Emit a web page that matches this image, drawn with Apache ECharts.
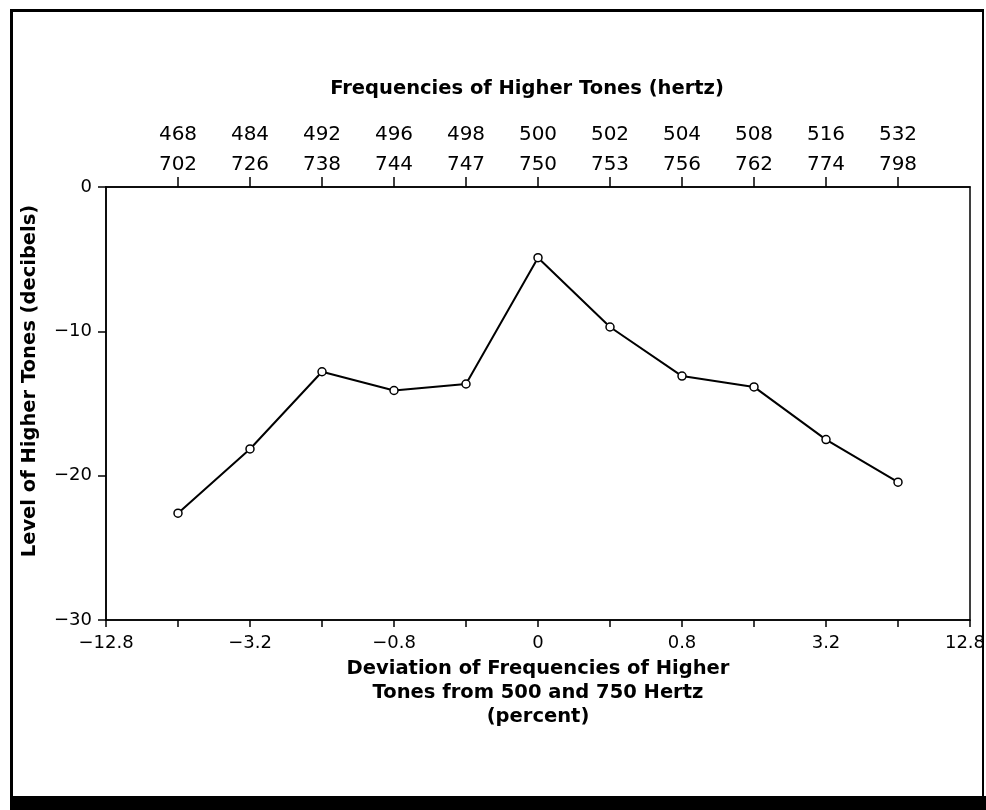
<!DOCTYPE html>
<html>
<head>
<meta charset="utf-8">
<script src="https://cdn.jsdelivr.net/npm/echarts@6/dist/echarts.min.js"></script>
<style>html,body{margin:0;padding:0;background:#fff}#c{width:986px;height:810px}</style>
</head>
<body>
<div id="c"></div>
<script>
// Data
var positions = [1, 2, 3, 4, 5, 6, 7, 8, 9, 10, 11];
var levels = [-22.6, -18.15, -12.8, -14.1, -13.65, -4.9, -9.7, -13.1, -13.85, -17.5, -20.45];
var topLower = ['468', '484', '492', '496', '498', '500', '502', '504', '508', '516', '532'];
var topUpper = ['702', '726', '738', '744', '747', '750', '753', '756', '762', '774', '798'];
var bottomLabels = ['\u221212.8', '', '\u22123.2', '', '\u22120.8', '', '0', '', '0.8', '', '3.2', '', '12.8'];

var FONT = 'DejaVu Sans';
var chart = echarts.init(document.getElementById('c'), null, {renderer: 'canvas'});
var seriesData = positions.map(function (p, i) { return [p, levels[i]]; });

chart.setOption({
  animation: false,
  backgroundColor: '#fff',
  grid: {left: 106, right: 16, top: 187, bottom: 190, outerBoundsMode: 'none', containLabel: false,
         show: true, borderColor: '#000', borderWidth: 1.5, backgroundColor: 'transparent'},
  graphic: [
    {type: 'rect', shape: {x: 10, y: 9, width: 3, height: 801}, style: {fill: '#000'}},
    {type: 'rect', shape: {x: 10, y: 9, width: 974, height: 3}, style: {fill: '#000'}},
    {type: 'rect', shape: {x: 982, y: 9, width: 2, height: 801}, style: {fill: '#000'}},
    {type: 'rect', shape: {x: 10, y: 796, width: 976, height: 14}, style: {fill: '#000'}},
    {type: 'text', x: 30, y: 381, rotation: Math.PI / 2,
     style: {text: 'Level of Higher Tones (decibels)', font: 'bold 19.5px "' + FONT + '"', fill: '#000', align: 'center', verticalAlign: 'middle'}}
  ],
  xAxis: [
    {
      type: 'value', position: 'bottom', min: 0, max: 12, interval: 1,
      axisLine: {show: true, onZero: false, lineStyle: {color: '#000', width: 1.5}},
      axisTick: {show: true, length: 7, lineStyle: {color: '#000', width: 1.5}},
      splitLine: {show: false},
      axisLabel: {color: '#000', fontFamily: FONT, fontSize: 18, margin: 14, showMinLabel: true, showMaxLabel: true,
        rich: {r: {color: '#000', fontFamily: FONT, fontSize: 18, padding: [0, 10, 0, 0]}},
        formatter: function (v) {
          var i = Math.round(v);
          var s = bottomLabels[i] || '';
          return (i === bottomLabels.length - 1 && s) ? '{r|' + s + '}' : s;
        }},
      name: 'Deviation of Frequencies of Higher\nTones from 500 and 750 Hertz\n(percent)',
      nameLocation: 'middle', nameGap: 35,
      nameTextStyle: {color: '#000', fontFamily: FONT, fontWeight: 'bold', fontSize: 19.5, lineHeight: 24, verticalAlign: 'top'}
    },
    {
      type: 'value', position: 'top', min: 0, max: 12, interval: 1,
      axisLine: {show: true, onZero: false, lineStyle: {color: '#000', width: 1.5}},
      axisTick: {show: true, length: 10, customValues: positions, lineStyle: {color: '#000', width: 1.5}},
      splitLine: {show: false},
      axisLabel: {color: '#000', fontFamily: FONT, fontSize: 20, margin: 7, lineHeight: 30, customValues: positions,
        formatter: function (v) { var i = positions.indexOf(Math.round(v)); return i < 0 ? '' : topLower[i] + '\n' + topUpper[i]; }},
      name: 'Frequencies of Higher Tones (hertz)',
      nameLocation: 'middle', nameGap: 88,
      nameTextStyle: {color: '#000', fontFamily: FONT, fontWeight: 'bold', fontSize: 19.5, verticalAlign: 'bottom', padding: [0, 22, 0, 0]}
    }
  ],
  yAxis: {
    type: 'value', min: -30, max: 0, interval: 10,
    axisLine: {show: true, onZero: false, lineStyle: {color: '#000', width: 1.5}},
    axisTick: {show: true, length: 8, lineStyle: {color: '#000', width: 1.5}},
    splitLine: {show: false},
    axisLabel: {color: '#000', fontFamily: FONT, fontSize: 18, margin: 14,
      formatter: function (v) { return v < 0 ? '\u2212' + Math.abs(v) : String(v); }}
  },
  series: [{
    type: 'line', xAxisIndex: 0, data: seriesData,
    lineStyle: {color: '#000', width: 2},
    symbol: 'circle', symbolSize: 8,
    itemStyle: {color: '#fff', borderColor: '#000', borderWidth: 1.5}
  }]
});
</script>
</body>
</html>
